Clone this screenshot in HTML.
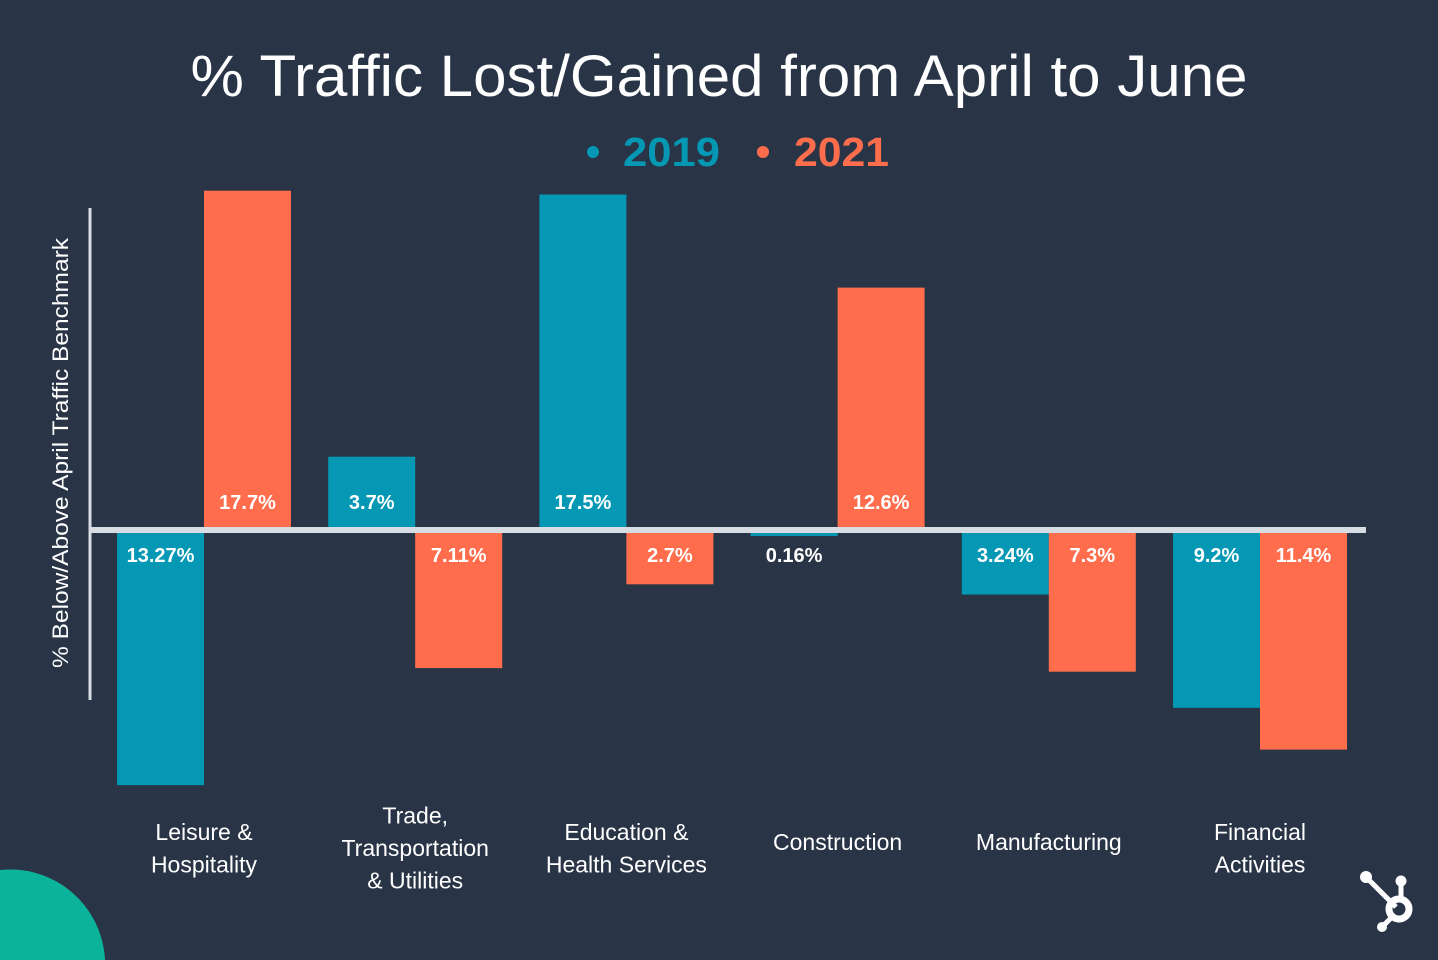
<!DOCTYPE html>
<html><head><meta charset="utf-8"><style>
html,body{margin:0;padding:0;background:#293546;width:1438px;height:960px;overflow:hidden;}
svg{display:block;font-family:"Liberation Sans",sans-serif;}
</style></head><body>
<svg id="chart" width="1438" height="960" viewBox="0 0 1438 960">
<rect width="1438" height="960" fill="#293546"/>
<path d="M0 870 A95 95 0 0 1 105 960 L0 960 Z" fill="#0cb39b"/>
<text x="719" y="96" text-anchor="middle" font-size="58" textLength="1057" lengthAdjust="spacingAndGlyphs" fill="#ffffff">% Traffic Lost/Gained from April to June</text>
<g>
<circle cx="593" cy="152" r="6" fill="#0598b4"/>
<text x="623" y="166" font-size="41" font-weight="bold" textLength="97" lengthAdjust="spacingAndGlyphs" fill="#0598b4">2019</text>
<circle cx="763" cy="152" r="6" fill="#ff6d4d"/>
<text x="794" y="166" font-size="41" font-weight="bold" textLength="95" lengthAdjust="spacingAndGlyphs" fill="#ff6d4d">2021</text>
</g>
<text transform="translate(68,453) rotate(-90)" text-anchor="middle" font-size="22" textLength="430" lengthAdjust="spacingAndGlyphs" fill="#ffffff">% Below/Above April Traffic Benchmark</text>
<line x1="90" y1="208" x2="90" y2="700" stroke="#d8dde4" stroke-width="3"/>
<g id="bars"></g>
<rect x="90" y="527" width="1276" height="6" fill="#d8dde4"/>
<g id="labels"></g>
<g fill="#ffffff" stroke="#ffffff">
<line x1="1366" y1="877" x2="1396" y2="907" stroke-width="5"/>
<line x1="1401" y1="881" x2="1401" y2="900" stroke-width="5"/>
<line x1="1382" y1="927" x2="1393" y2="916" stroke-width="5"/>
<circle cx="1366" cy="877" r="6" stroke="none"/>
<circle cx="1401" cy="881" r="5.5" stroke="none"/>
<circle cx="1382" cy="927" r="5" stroke="none"/>
<circle cx="1399" cy="909" r="10" fill="none" stroke-width="7"/>
</g>
</svg>
<script>
const categories = [["Leisure &","Hospitality"],["Trade,","Transportation","& Utilities"],["Education &","Health Services"],["Construction"],["Manufacturing"],["Financial","Activities"]];
const values2019 = [-13.27, 3.7, 17.5, -0.16, -3.24, -9.2];
const values2021 = [17.7, -7.11, -2.7, 12.6, -7.3, -11.4];
const labels2019 = ["13.27%","3.7%","17.5%","0.16%","3.24%","9.2%"];
const labels2021 = ["17.7%","7.11%","2.7%","12.6%","7.3%","11.4%"];

const NS = "http://www.w3.org/2000/svg";
const zeroTop = 527, zeroBot = 533, pxPer = 19;
const barW = 87;
function xCenter(i){ return 204 + i * 211.2; }
function yScale(v){ return v >= 0 ? zeroTop - v * pxPer : zeroBot + (-v) * pxPer; }

const barsG = document.getElementById('bars');
const labelsG = document.getElementById('labels');
const series = [
  {vals: values2019, labs: labels2019, color: "#0598b4", off: -barW, key: "2019"},
  {vals: values2021, labs: labels2021, color: "#ff6d4d", off: 0, key: "2021"}
];
series.forEach(s => {
  s.vals.forEach((v, i) => {
    const x = xCenter(i) + s.off;
    const y0 = v >= 0 ? yScale(v) : zeroBot;
    const h = v >= 0 ? zeroTop - yScale(v) : yScale(v) - zeroBot;
    const r = document.createElementNS(NS, 'rect');
    r.setAttribute('x', x); r.setAttribute('y', y0);
    r.setAttribute('width', barW); r.setAttribute('height', Math.max(h, 0));
    r.setAttribute('fill', s.color);
    
    
    barsG.appendChild(r);
    const t = document.createElementNS(NS, 'text');
    t.setAttribute('x', x + barW / 2);
    t.setAttribute('y', v >= 0 ? 509 : 562);
    t.setAttribute('text-anchor', 'middle');
    t.setAttribute('font-size', '20');
    t.setAttribute('font-weight', 'bold');
    t.setAttribute('fill', '#ffffff');
    t.textContent = s.labs[i];
    
    
    labelsG.appendChild(t);
  });
});
categories.forEach((lines, i) => {
  const t = document.createElementNS(NS, 'text');
  t.setAttribute('text-anchor', 'middle');
  t.setAttribute('font-size', '23');
  t.setAttribute('fill', '#ffffff');
  
  
  const lh = 32.5;
  const startY = lines.length === 1 ? 850 : 856 - (lines.length - 1) * lh / 2;
  lines.forEach((ln, j) => {
    const ts = document.createElementNS(NS, 'tspan');
    ts.setAttribute('x', xCenter(i));
    ts.setAttribute('y', startY + j * lh);
    ts.textContent = ln;
    t.appendChild(ts);
  });
  labelsG.appendChild(t);
});
</script>
</body></html>
